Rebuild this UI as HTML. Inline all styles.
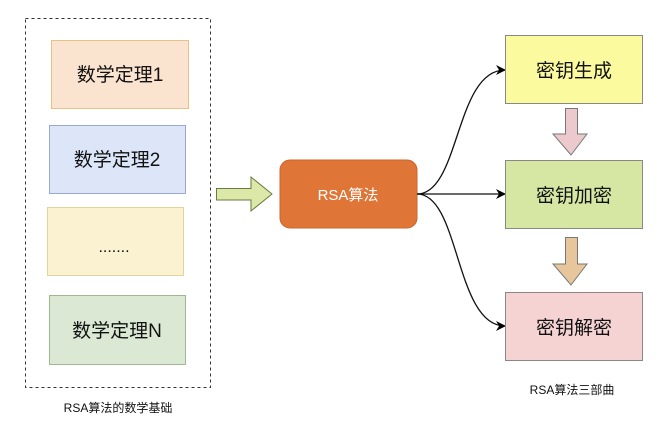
<!DOCTYPE html>
<html><head><meta charset="utf-8"><style>
html,body{margin:0;padding:0;background:#fff;}
svg text{font-family:"Liberation Sans","Noto Sans CJK SC",sans-serif;}
</style></head><body>
<svg width="665" height="426" viewBox="0 0 665 426" xmlns="http://www.w3.org/2000/svg">
<defs><marker id="ah" markerWidth="10" markerHeight="10" refX="9" refY="5" orient="auto" markerUnits="userSpaceOnUse"><path d="M0,0 L10,5 L0,10 L3,5 Z" fill="#000"/></marker></defs>
<rect x="25.5" y="18.5" width="185" height="369" fill="none" stroke="#333" stroke-dasharray="3,3"/>
<rect x="51.5" y="40.5" width="137" height="68" fill="#fae3cf" stroke="#e2c486"/>
<rect x="49.5" y="125.5" width="136" height="68" fill="#dce6f8" stroke="#9aa8d6"/>
<rect x="47.5" y="207.5" width="136" height="68" fill="#fbf2d2" stroke="#e1d39a"/>
<rect x="49.5" y="295.5" width="136" height="69" fill="#dbe8d4" stroke="#9fb88f"/>
<g font-size="19" text-anchor="middle" fill="#111">
<text x="120" y="81">数学定理1</text>
<text x="117" y="166">数学定理2</text>
<text x="114" y="252" font-size="16">.......</text>
<text x="117" y="337">数学定理N</text>
</g>
<text x="118" y="412" font-size="12" text-anchor="middle" fill="#111">RSA算法的数学基础</text>
<path d="M216.5,188.5 H251 V177 L272,194 L251,211 V200 H216.5 Z" fill="#dbe8a8" stroke="#6a7a40"/>
<rect x="280" y="160" width="137" height="68" rx="10" fill="#df7638" stroke="#c8652b"/>
<text x="348" y="200" font-size="15" text-anchor="middle" fill="#fff">RSA算法</text>
<g fill="none" stroke="#111" stroke-width="1.3">
<path d="M417,194 C460,194 455,70 505,70" marker-end="url(#ah)"/>
<path d="M417,194 H505" marker-end="url(#ah)"/>
<path d="M417,194 C460,194 455,326 505,326" marker-end="url(#ah)"/>
</g>
<rect x="505.5" y="35.5" width="137" height="68" fill="#fbfa9e" stroke="#888"/>
<rect x="505.5" y="160.5" width="137" height="68" fill="#d5e7a3" stroke="#888"/>
<rect x="505.5" y="292.5" width="137" height="68" fill="#f5d3d3" stroke="#888"/>
<g font-size="19" text-anchor="middle" fill="#111">
<text x="574" y="77">密钥生成</text>
<text x="574" y="202">密钥加密</text>
<text x="574" y="334">密钥解密</text>
</g>
<path d="M565.5,108.5 H577.5 V134 H587 L571,155 L553,134 H565.5 Z" fill="#ecc9cc" stroke="#777"/>
<path d="M565.5,237.5 H577.5 V264 H587 L571,285 L553,264 H565.5 Z" fill="#e8c69c" stroke="#777"/>
<text x="572" y="394" font-size="12" text-anchor="middle" fill="#111">RSA算法三部曲</text>
</svg>
</body></html>
